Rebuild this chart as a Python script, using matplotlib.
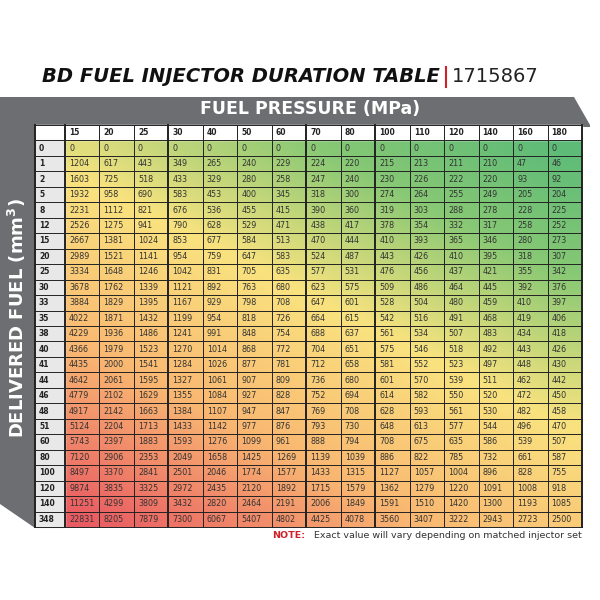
import numpy as np
import matplotlib
matplotlib.use("Agg")
import matplotlib.pyplot as plt
from matplotlib.colors import LinearSegmentedColormap
from matplotlib.patches import Polygon, Rectangle

pressures = [15, 20, 25, 30, 40, 50, 60, 70, 80, 100, 110, 120, 140, 160, 180]
fuel = [0, 1, 2, 5, 8, 12, 15, 20, 25, 30, 33, 35, 38, 40, 41, 44, 46, 48, 51, 60, 80, 100, 120, 140, 348]
values = [
    [0, 0, 0, 0, 0, 0, 0, 0, 0, 0, 0, 0, 0, 0, 0],
    [1204, 617, 443, 349, 265, 240, 229, 224, 220, 215, 213, 211, 210, 47, 46],
    [1603, 725, 518, 433, 329, 280, 258, 247, 240, 230, 226, 222, 220, 93, 92],
    [1932, 958, 690, 583, 453, 400, 345, 318, 300, 274, 264, 255, 249, 205, 204],
    [2231, 1112, 821, 676, 536, 455, 415, 390, 360, 319, 303, 288, 278, 228, 225],
    [2526, 1275, 941, 790, 628, 529, 471, 438, 417, 378, 354, 332, 317, 258, 252],
    [2667, 1381, 1024, 853, 677, 584, 513, 470, 444, 410, 393, 365, 346, 280, 273],
    [2989, 1521, 1141, 954, 759, 647, 583, 524, 487, 443, 426, 410, 395, 318, 307],
    [3334, 1648, 1246, 1042, 831, 705, 635, 577, 531, 476, 456, 437, 421, 355, 342],
    [3678, 1762, 1339, 1121, 892, 763, 680, 623, 575, 509, 486, 464, 445, 392, 376],
    [3884, 1829, 1395, 1167, 929, 798, 708, 647, 601, 528, 504, 480, 459, 410, 397],
    [4022, 1871, 1432, 1199, 954, 818, 726, 664, 615, 542, 516, 491, 468, 419, 406],
    [4229, 1936, 1486, 1241, 991, 848, 754, 688, 637, 561, 534, 507, 483, 434, 418],
    [4366, 1979, 1523, 1270, 1014, 868, 772, 704, 651, 575, 546, 518, 492, 443, 426],
    [4435, 2000, 1541, 1284, 1026, 877, 781, 712, 658, 581, 552, 523, 497, 448, 430],
    [4642, 2061, 1595, 1327, 1061, 907, 809, 736, 680, 601, 570, 539, 511, 462, 442],
    [4779, 2102, 1629, 1355, 1084, 927, 828, 752, 694, 614, 582, 550, 520, 472, 450],
    [4917, 2142, 1663, 1384, 1107, 947, 847, 769, 708, 628, 593, 561, 530, 482, 458],
    [5124, 2204, 1713, 1433, 1142, 977, 876, 793, 730, 648, 613, 577, 544, 496, 470],
    [5743, 2397, 1883, 1593, 1276, 1099, 961, 888, 794, 708, 675, 635, 586, 539, 507],
    [7120, 2906, 2353, 2049, 1658, 1425, 1269, 1139, 1039, 886, 822, 785, 732, 661, 587],
    [8497, 3370, 2841, 2501, 2046, 1774, 1577, 1433, 1315, 1127, 1057, 1004, 896, 828, 755],
    [9874, 3835, 3325, 2972, 2435, 2120, 1892, 1715, 1579, 1362, 1279, 1220, 1091, 1008, 918],
    [11251, 4299, 3809, 3432, 2820, 2464, 2191, 2006, 1849, 1591, 1510, 1420, 1300, 1193, 1085],
    [22831, 8205, 7879, 7300, 6067, 5407, 4802, 4425, 4078, 3560, 3407, 3222, 2943, 2723, 2500],
]

fig = plt.figure(figsize=(6, 6), dpi=100)
ax = fig.add_axes([0, 0, 1, 1])

gray = "#6d6e71"
ax.add_patch(Polygon([(0, 97), (574, 97), (590, 125), (590, 127), (0, 127)], closed=True, color=gray, lw=0))
ax.add_patch(Polygon([(0, 97), (35, 97), (35, 528), (0, 504)], closed=True, color=gray, lw=0))

x0, x1, y0, y1 = 35, 582, 125, 527
c0w = 30
nR, nC = len(fuel), len(pressures)
cw = (x1 - x0 - c0w) / nC
rh = (y1 - y0) / (nR + 1)

cmap = LinearSegmentedColormap.from_list("g", [(0, "#5cbb78"), (0.2, "#86c874"), (0.45, "#f9e37f"),
                                                 (0.72, "#f9b872"), (1, "#e95a62")])
R, C = np.meshgrid(np.arange(nR), np.arange(nC), indexing="ij")
t = 0.6 * R / (nR - 1) + 0.4 * (1 - C / (nC - 1))
ax.imshow(t, cmap=cmap, vmin=0, vmax=1, extent=[x0 + c0w, x1, y0 + rh * (nR + 1), y0 + rh],
          interpolation="bicubic", aspect="auto", zorder=1)
ax.set_xlim(0, 600)
ax.set_ylim(600, 0)
ax.axis("off")

ax.add_patch(Rectangle((x0, y0), x1 - x0, rh, color="white", zorder=1))
ax.add_patch(Rectangle((x0, y0 + rh), c0w, rh * nR, color="#e8e8e8", zorder=1))

for j, p in enumerate(pressures):
    ax.text(x0 + c0w + cw * j + 4, y0 + rh / 2, str(p), fontsize=5.5, fontweight="bold",
            va="center", ha="left", color="#222", zorder=3)
for i, f in enumerate(fuel):
    yc = y0 + rh * (i + 1.5)
    ax.text(x0 + 4, yc, str(f), fontsize=5.5, fontweight="bold", va="center", ha="left", color="#222", zorder=3)
    for j in range(nC):
        ax.text(x0 + c0w + cw * j + 4, yc, str(values[i][j]), fontsize=5.8, va="center", ha="left",
                color="#333", zorder=3)

for i in range(nR + 2):
    y = y0 + rh * i
    ax.plot([x0, x1], [y, y], color="#222", lw=0.7, zorder=2)
for j in range(nC + 2):
    x = x0 if j == 0 else x0 + c0w + cw * (j - 1)
    lw = 1.4 if j in (0, 1, 4, 8, 10, nC + 1) else 0.7
    ax.plot([x, x], [y0, y1], color="#222", lw=lw, zorder=2)

ax.text(440, 77, "BD FUEL INJECTOR DURATION TABLE", fontsize=14, fontweight="heavy", style="italic",
        ha="right", va="center", color="#111")
ax.plot([446, 446], [67, 87], color="#d0202a", lw=1.5)
ax.text(452, 77, "1715867", fontsize=14, ha="left", va="center", color="#222")
ax.text(310, 109, "FUEL PRESSURE (MPa)", fontsize=12.5, fontweight="bold", color="white",
        ha="center", va="center")
ax.text(17, 318, "DELIVERED FUEL (mm$^\\mathbf{3}$)", fontsize=13, fontweight="bold", color="white",
        ha="center", va="center", rotation=90)
ax.text(272, 536, "NOTE:", fontsize=6.8, fontweight="bold", color="#d0202a", ha="left", va="center")
ax.text(582, 536, "Exact value will vary depending on matched injector set", fontsize=6.8,
        color="#333", ha="right", va="center")

fig.savefig("out.png", dpi=100)
